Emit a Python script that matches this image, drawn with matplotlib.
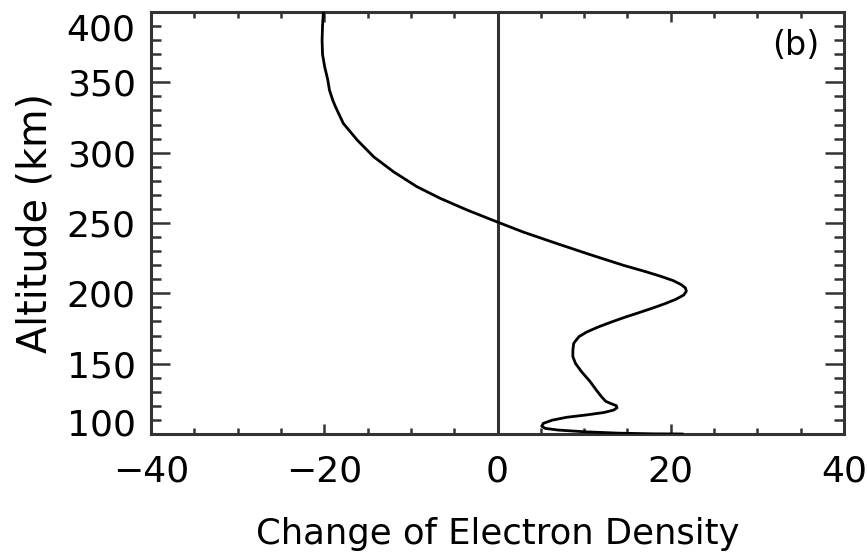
import matplotlib
matplotlib.use("Agg")
import matplotlib.pyplot as plt
import matplotlib.transforms as mtransforms
from matplotlib.ticker import MultipleLocator

# Altitude profile of the electron-density change (km, relative units)
altitude = [400, 390, 380, 370, 361, 352, 344.5, 337, 332.6, 320.8, 309,
            297.1, 286.4, 275.8, 267.5, 259.2, 250.9, 243.5, 235.5, 227.5,
            220.0, 215.6, 212.0, 209.0, 206.2, 203.8, 201.5, 198.8, 195.8,
            192.8, 189.5, 186.0, 183.0, 179.5, 176.0, 172.5, 169.2, 164.5,
            159.7, 155.0, 150.2, 144.3, 137.2, 131.3, 126.5, 123.2, 121.6,
            120.2, 118.6, 117.0, 115.3, 113.5, 111.9, 109.8, 107.6, 105.6,
            104.0, 102.8, 101.6, 100.6, 100.1, 100.0]
density_change = [-20.1, -20.2, -20.25, -20.2, -19.95, -19.6, -19.4, -19.0,
                  -18.7, -17.8, -16.2, -14.3, -12.0, -9.3, -6.6, -3.5, -0.1,
                  3.0, 6.8, 10.7, 14.5, 17.0, 18.9, 20.3, 21.2, 21.7, 21.8,
                  21.5, 20.6, 19.4, 17.9, 16.2, 14.7, 13.1, 11.6, 10.3, 9.4,
                  8.8, 8.7, 8.7, 9.0, 9.7, 10.7, 11.4, 12.0, 12.5, 13.1, 13.7,
                  13.8, 13.4, 12.3, 10.2, 8.0, 6.3, 5.3, 5.1, 5.5, 7.0, 10.0,
                  14.0, 18.0, 21.4]

x_ticks = [-40, -20, 0, 20, 40]
y_ticks = [100, 150, 200, 250, 300, 350, 400]
x_label = "Change of Electron Density"
y_label = "Altitude (km)"
panel_tag = "(b)"

plt.rcParams["font.family"] = ["DejaVu Sans"]

fig = plt.figure(figsize=(8.67, 5.55), dpi=100)
ax = fig.add_axes([151 / 867, 121 / 555, 693 / 867, 422 / 555])

frame = "#333333"
ax.axvline(0, color=frame, lw=2.2, zorder=2)
ax.plot(density_change, altitude, color="black", lw=2.0, zorder=3,
        solid_joinstyle="round", solid_capstyle="round")

ax.set_xlim(-40, 40)
ax.set_ylim(100, 400)
ax.set_xticks(x_ticks)
ax.set_yticks(y_ticks)
ax.xaxis.set_minor_locator(MultipleLocator(5))
ax.yaxis.set_minor_locator(MultipleLocator(10))

for s in ax.spines.values():
    s.set_linewidth(2.2)
    s.set_color(frame)

ax.tick_params(axis="both", which="both", direction="in", top=True,
               right=True, color=frame, width=1.8)
ax.tick_params(axis="x", which="major", length=7, pad=15, labelsize=26)
ax.tick_params(axis="x", which="minor", length=4)
ax.tick_params(axis="y", which="major", length=14, pad=11, labelsize=26)
ax.tick_params(axis="y", which="minor", length=7)

ax.set_xlabel(x_label, fontsize=25.5, labelpad=20)
ax.set_ylabel(y_label, fontsize=28.5, labelpad=8)

# keep the end labels of the altitude axis inside the frame
fig.canvas.draw()
shift = {"400": -15, "100": 12}
for lab in ax.get_yticklabels():
    t = lab.get_text()
    if t in shift:
        off = mtransforms.ScaledTranslation(0, shift[t] / 100, fig.dpi_scale_trans)
        lab.set_transform(lab.get_transform() + off)

ax.text(0.931, 0.921, panel_tag, transform=ax.transAxes, fontsize=24,
        ha="center", va="center")

fig.savefig("out.png", dpi=100)
